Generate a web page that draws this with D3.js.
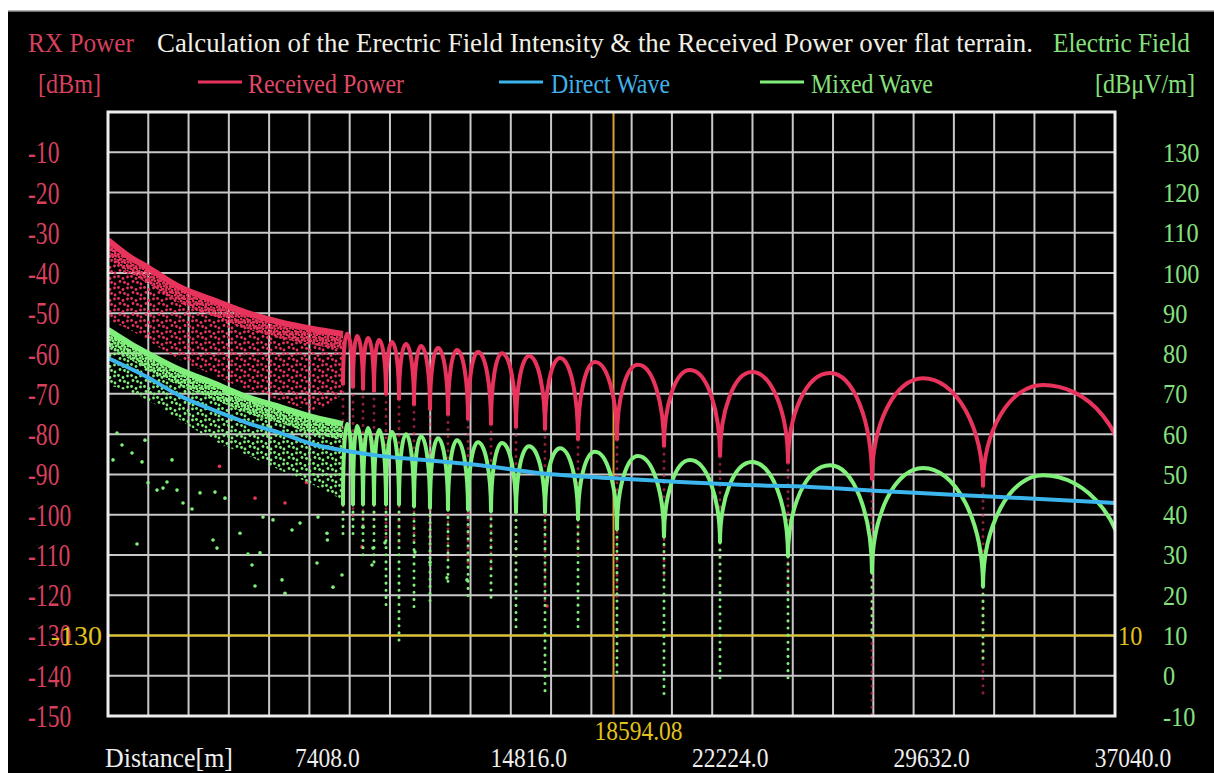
<!DOCTYPE html>
<html>
<head>
<meta charset="utf-8">
<script src="https://cdn.jsdelivr.net/npm/d3@7"></script>
<style>
  body { margin: 0; background: #fff; }
  text { font-family: "Liberation Serif", "DejaVu Serif", serif; }
</style>
</head>
<body>
<div id="chart"></div>
<script>
// ---- values ----
const xTicks = [7408, 14816, 22224, 29632, 37040];
const xTickLabels = ["7408.0", "14816.0", "22224.0", "29632.0", "37040.0"];
const leftTicks = [-10, -20, -30, -40, -50, -60, -70, -80, -90, -100, -110, -120, -130, -140, -150];
const rightTicks = [130, 120, 110, 100, 90, 80, 70, 60, 50, 40, 30, 20, 10, 0, -10];

// cursor
const cursorDist = 18594.08;
const cursorPower = -130;

// direct wave [dBuV/m]
const directDist = [0, 1435, 2648, 3862, 5113, 6327, 7540, 8791, 10005, 11219, 12469, 13683, 15890, 18465, 21040, 23247, 25822, 29132, 32810, 37040];
const directField = [78.9, 74.2, 69.5, 66.0, 62.8, 60.3, 57.5, 55.8, 54.6, 53.8, 53.1, 52.3, 50.3, 49.1, 48.1, 47.4, 46.9, 45.6, 44.4, 42.9];

// dense region near the transmitter (edges of the dot cloud)
const bandDist = [0, 800, 1435, 2648, 3862, 5113, 6327, 7540, 8644];
const redTop = [-31.8, -36.0, -38.5, -43.5, -46.7, -49.9, -52.2, -53.9, -55.1];
const redBottom = [-51.7, -54.1, -56.6, -61.6, -65.3, -69.0, -71.5, -74.0, -70.0];
const greenTop = [85.9, 82.5, 80.1, 75.9, 72.7, 69.2, 66.7, 64.2, 62.5];
const greenBottom = [72.2, 70.5, 68.5, 63.5, 58.5, 54.8, 51.1, 47.4, 43.6];

// nulls of the two-ray pattern (last one lies just past the axis end)
const nullDist = [8644, 9012, 9380, 9784, 10226, 10704, 11256, 11844, 12506, 13242, 14088, 15007, 16074, 17288, 18722, 20451, 22511, 25012, 28102, 32185, 37519];
const redFloor = [-67.8, -68.5, -69.0, -69.5, -70.3, -71.5, -72.8, -74.0, -75.3, -76.5, -77.7, -78.5, -79.0, -81.5, -81.5, -83.2, -85.7, -87.2, -91.4, -93.1, -94.0];
const greenFloor = [42.4, 42.4, 42.4, 42.4, 42.4, 42.4, 41.9, 41.6, 41.1, 41.1, 40.7, 40.4, 40.4, 38.7, 36.2, 34.4, 33.0, 29.5, 25.5, 22.0, 21.5];
const redTail = [-100, -102, -104, -104, -106, -108, -108, -110, -112, -112, -114, -116, -123, -110, -122, -115, -118, -120, -149.8, -145.5];
const greenTail = [33.7, 33.7, 28.7, 27.5, 17.1, 8.1, 16.1, 18.3, 21.8, 19.3, 18.1, 12.1, -4.8, 12.1, -0.3, -5.5, -0.6, -1.6, 8.1, 3.9];

// lobe tops between the nulls
const peakDist = [8791, 9159, 9564, 9968, 10446, 10961, 11513, 12138, 12837, 13610, 14493, 15486, 16626, 17913, 19495, 21408, 23688, 26557, 29978, 34392];
const redPeak = [-55.1, -55.6, -56.1, -56.6, -57.1, -57.6, -58.1, -58.6, -59.1, -59.6, -59.9, -60.6, -61.1, -62.1, -62.8, -64.1, -64.6, -64.8, -66.1, -67.8];
const greenPeak = [62.5, 62.0, 61.5, 61.0, 60.5, 60.0, 59.5, 59.0, 58.5, 58.0, 57.8, 57.0, 56.5, 55.6, 54.6, 53.6, 53.1, 52.3, 51.6, 49.8];

// loose samples below the main cloud
const greenDotDist = [184, 331, 515, 883, 1067, 1251, 1361, 1471, 1802, 2023, 2170, 2354, 2538, 2759, 3090, 3384, 3862, 3935, 4009, 4303, 4855, 5149, 5296, 5407, 5591, 5701, 6069, 6400, 6510, 6768, 7062, 7687, 7724, 8055, 8070, 8276, 8607, 9379, 9747, 9710, 10188, 11291, 11843, 12468, 13204];
const greenDotField = [53.6, 60.3, 57.3, 55.3, 32.7, 53.1, 58.5, 47.9, 46.1, 46.6, 48.1, 53.6, 46.1, 42.9, 41.4, 45.4, 33.7, 45.6, 31.7, 44.1, 35.4, 30.2, 27.5, 22.3, 30.5, 39.4, 38.7, 23.8, 20.5, 36.2, 37.9, 28.0, 39.4, 35.4, 33.7, 22.0, 25.0, 36.9, 31.7, 27.5, 33.0, 30.7, 28.2, 24.3, 23.8];
const redDotDist = [5407, 6510, 9342, 16147, 4100, 7300];
const redDotPower = [-95.9, -97.1, -108.0, -122.7, -88.0, -92.0];

// ---- drawing ----
const red = "#e8345c", green = "#80f07a", cyan = "#3cb4ec", yellow = "#e2c21c", grid = "#c8c8c8";

const svg = d3.select("#chart").append("svg").attr("width", 1214).attr("height", 773);

const squeeze = (sel, k) =>
  sel.each(function() {
    const w = this.getComputedTextLength();
    d3.select(this).attr("textLength", w * k).attr("lengthAdjust", "spacingAndGlyphs");
  });
const fitTo = (sel, w) => sel.attr("textLength", w).attr("lengthAdjust", "spacingAndGlyphs");

svg.append("rect").attr("x", 8).attr("y", 11).attr("width", 1206).attr("height", 762).attr("fill", "#000");
svg.append("line").attr("x1", 8).attr("x2", 1214).attr("y1", 11).attr("y2", 11).attr("stroke", "#999").attr("stroke-width", 1.5);

const x = d3.scaleLinear().domain([0, 37040]).range([108, 1115]);
const yL = d3.scaleLinear().domain([-150, 0]).range([716, 112]);
const yR = d3.scaleLinear().domain([-10, 140]).range([716, 112]);

const defs = svg.append("defs");
defs.append("clipPath").attr("id", "plot")
  .append("rect").attr("x", 108).attr("y", 112).attr("width", 1007).attr("height", 604);

// dot textures for the cloud: a loose one and a tight one for its upper edge
const pattern = (id, color, w, h, spots) => {
  const p = defs.append("pattern").attr("id", id).attr("patternUnits", "userSpaceOnUse")
    .attr("width", w).attr("height", h);
  spots.forEach(c =>
    p.append("circle").attr("cx", c[0]).attr("cy", c[1]).attr("r", 1.4).attr("fill", color));
};
const loose = [[1.5, 1.5], [6, 3.5], [3, 6.5], [7.5, 7.5], [10.5, 2], [11, 9]];
const tight = [[1.2, 1.2], [4, 2.5], [2, 4.2], [5, 5]];
pattern("redDots", red, 13, 11, loose);
pattern("greenDots", green, 13, 11, loose);
pattern("redCore", red, 6, 6, tight);
pattern("greenCore", green, 6, 6, tight);

// grid
const xGrid = d3.range(1, 25).map(i => i * 1481.6);
svg.append("g").selectAll("line").data(xGrid).enter().append("line")
  .attr("x1", d => x(d)).attr("x2", d => x(d)).attr("y1", 112).attr("y2", 716)
  .attr("stroke", grid).attr("stroke-width", 2);
svg.append("g").selectAll("line").data(leftTicks.filter(d => d > -150)).enter().append("line")
  .attr("x1", 108).attr("x2", 1115).attr("y1", d => yL(d)).attr("y2", d => yL(d))
  .attr("stroke", grid).attr("stroke-width", 2);

// cursor lines
svg.append("line").attr("x1", 108).attr("x2", 1115).attr("y1", yL(cursorPower)).attr("y2", yL(cursorPower))
  .attr("stroke", yellow).attr("stroke-width", 2);
svg.append("line").attr("x1", x(cursorDist)).attr("x2", x(cursorDist)).attr("y1", 112).attr("y2", 716)
  .attr("stroke", "#d9a03a").attr("stroke-width", 2);

const plot = svg.append("g").attr("clip-path", "url(#plot)");

const band = (top, bottom, yScale) =>
  d3.area().x((d, i) => x(bandDist[i])).y0((d, i) => yScale(bottom[i])).y1((d, i) => yScale(top[i]))
    .curve(d3.curveMonotoneX)(bandDist);
const core = (top, yScale, depth) =>
  d3.area().x((d, i) => x(bandDist[i])).y0((d, i) => yScale(top[i]) + depth).y1((d, i) => yScale(top[i]))
    .curve(d3.curveMonotoneX)(bandDist);
const edge = (top, yScale) =>
  d3.line().x((d, i) => x(bandDist[i])).y((d, i) => yScale(top[i])).curve(d3.curveMonotoneX)(bandDist);

const lobe = (i, yScale, peaks, floors) => {
  const xa = x(nullDist[i]), xb = x(nullDist[i + 1]), xp = x(peakDist[i]);
  const ya = yScale(floors[i]), yb = yScale(floors[i + 1]), yp = yScale(peaks[i]);
  return `M${xa},${ya}A${xp - xa},${ya - yp} 0 0 1 ${xp},${yp}A${xb - xp},${yb - yp} 0 0 1 ${xb},${yb}`;
};

const series = (color, yScale, top, bottom, peaks, floors, tails, name, tailOpacity) => {
  const g = plot.append("g");
  g.append("path").attr("d", band(top, bottom, yScale)).attr("fill", `url(#${name}Dots)`);
  g.append("path").attr("d", core(top, yScale, 16)).attr("fill", `url(#${name}Core)`);
  g.append("path").attr("d", edge(top, yScale)).attr("fill", "none").attr("stroke", color).attr("stroke-width", 6);
  g.selectAll(".tail").data(tails).enter().append("line")
    .attr("x1", (d, i) => x(nullDist[i])).attr("x2", (d, i) => x(nullDist[i]))
    .attr("y1", (d, i) => yScale(floors[i])).attr("y2", d => yScale(d))
    .attr("stroke", color).attr("stroke-width", 3).attr("stroke-linecap", "round")
    .attr("stroke-dasharray", "0.1,7").attr("opacity", tailOpacity);
  g.selectAll(".lobe").data(peaks).enter().append("path")
    .attr("d", (d, i) => lobe(i, yScale, peaks, floors))
    .attr("fill", "none").attr("stroke", color).attr("stroke-width", 4);
};

series(red, yL, redTop, redBottom, redPeak, redFloor, redTail, "red", 0.6);
plot.selectAll(".rdot").data(redDotDist).enter().append("circle")
  .attr("cx", d => x(d)).attr("cy", (d, i) => yL(redDotPower[i])).attr("r", 1.8).attr("fill", red);

series(green, yR, greenTop, greenBottom, greenPeak, greenFloor, greenTail, "green", 1);
plot.selectAll(".gdot").data(greenDotDist).enter().append("circle")
  .attr("cx", d => x(d)).attr("cy", (d, i) => yR(greenDotField[i])).attr("r", 1.8).attr("fill", green);

plot.append("path")
  .attr("d", d3.line().x((d, i) => x(directDist[i])).y((d, i) => yR(directField[i])).curve(d3.curveMonotoneX)(directDist))
  .attr("fill", "none").attr("stroke", cyan).attr("stroke-width", 4);

// frame
svg.append("rect").attr("x", 108).attr("y", 112).attr("width", 1007).attr("height", 604)
  .attr("fill", "none").attr("stroke", "#eee").attr("stroke-width", 3);

// left axis labels
svg.append("g").selectAll("text").data(leftTicks).enter().append("text")
  .attr("x", 28).attr("y", d => yL(d) + 11).attr("fill", "#d8405e").style("font-size", "31px")
  .text(d => d).call(squeeze, 0.76);

// right axis labels
svg.append("g").selectAll("text").data(rightTicks).enter().append("text")
  .attr("x", 1163).attr("y", d => yR(d) + 9.5).attr("fill", "#86e07e").style("font-size", "27px")
  .text(d => d).call(squeeze, 0.9);

// bottom labels
svg.append("g").selectAll("text").data(xTicks).enter().append("text")
  .attr("x", d => x(d) + 18).attr("y", 767).attr("text-anchor", "middle").attr("fill", "#eee")
  .style("font-size", "28px").text((d, i) => xTickLabels[i]).call(squeeze, 0.84);
svg.append("text").attr("x", 105).attr("y", 767).attr("fill", "#eee").style("font-size", "27px")
  .text("Distance[m]").call(fitTo, 128);

// cursor labels (the left one sits over the -130 tick label, as in the original)
svg.append("text").attr("x", 102).attr("y", yL(cursorPower) + 10).attr("text-anchor", "end")
  .attr("fill", yellow).style("font-size", "28px").text(cursorPower);
svg.append("text").attr("x", 1118).attr("y", yL(cursorPower) + 10)
  .attr("fill", yellow).style("font-size", "27px").text(cursorPower + 140).call(squeeze, 0.9);
svg.append("text").attr("x", x(cursorDist) + 25).attr("y", 740).attr("text-anchor", "middle")
  .attr("fill", yellow).style("font-size", "27px").text(cursorDist.toFixed(2)).call(squeeze, 0.87);

// header
const header = (t, x0, y0, w, color) =>
  svg.append("text").attr("x", x0).attr("y", y0).attr("fill", color).style("font-size", "27px")
    .text(t).call(fitTo, w);
header("RX Power", 28, 52, 106, "#d8405e");
header("Calculation of the Erectric Field Intensity & the Received Power over flat terrain.", 157, 52, 876, "#f2f0e6");
header("Electric Field", 1053, 52, 137, "#86e07e");
header("[dBm]", 38, 93, 63, "#d8405e");
header("[dB\u03bcV/m]", 1095, 93, 100, "#86e07e");

// legend
const legend = [
  { name: "Received Power", color: red, text: "#e04a68", x0: 198, tx: 248, w: 156 },
  { name: "Direct Wave", color: cyan, text: "#40b0e8", x0: 499, tx: 551, w: 119 },
  { name: "Mixed Wave", color: green, text: "#86e07e", x0: 760, tx: 811, w: 122 }
];
legend.forEach(d => {
  svg.append("line").attr("x1", d.x0).attr("x2", d.x0 + 44).attr("y1", 82).attr("y2", 82)
    .attr("stroke", d.color).attr("stroke-width", 3);
  header(d.name, d.tx, 93, d.w, d.text);
});
</script>
</body>
</html>
